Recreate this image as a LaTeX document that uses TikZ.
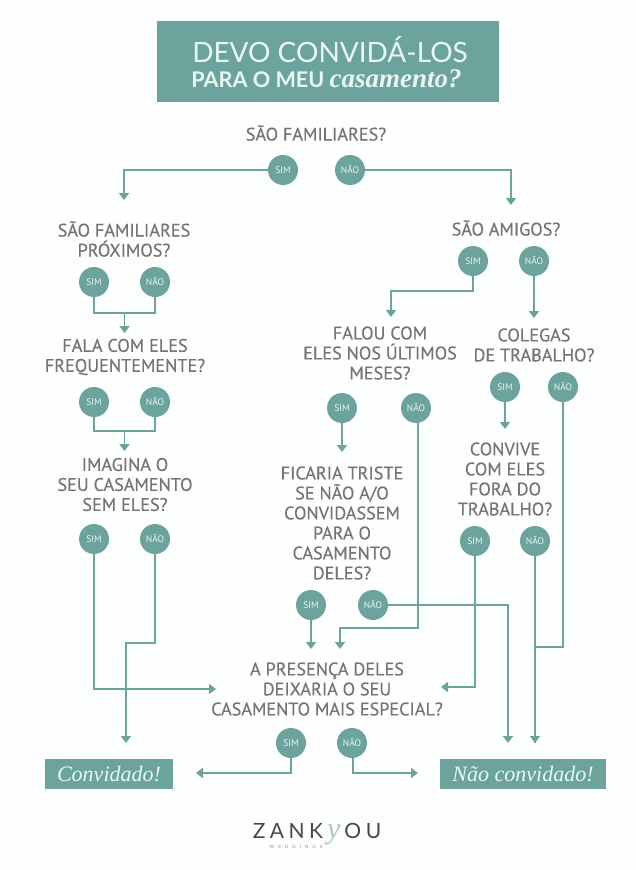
\documentclass[tikz,border=0pt]{standalone}
\usepackage{fontspec}
\setmainfont{PT Sans}
\newfontfamily\qfont[FakeBold=0.25]{PT Sans}
\newfontfamily\titlefont{Lato}
\newfontfamily\scriptf{Liberation Serif}
\usetikzlibrary{arrows.meta,calc}
\definecolor{teal1}{HTML}{6CA39C}
\definecolor{grey1}{HTML}{747474}
\definecolor{pale}{HTML}{E9F7F3}
\tikzset{
  x=1pt,y=-1pt,
  q/.style={text=grey1,align=center,inner sep=0pt,font=\qfont\fontsize{18.2}{20}\selectfont},
  ans/.style={circle,fill=teal1,minimum size=30pt,inner sep=0pt,text=pale,font=\fontsize{9.5}{10}\selectfont},
  res/.style={fill=teal1,inner sep=0pt,text=pale,font=\scriptf\itshape\fontsize{22}{24}\selectfont},
  link/.style={draw=teal1,line width=1.6pt},
  go/.style={link,-{Triangle[length=7pt,width=10pt]}},
}
\begin{document}
\begin{tikzpicture}
\useasboundingbox (0,0) rectangle (635,870);
\fill[white!99!teal1] (0,0) rectangle (635,870);
% title
\node[fill=teal1,minimum width=342pt,minimum height=81pt,inner sep=0pt] (title) at (328,61.5) {};
\node[text=pale,inner sep=0pt,font=\titlefont\fontsize{28}{30}\selectfont] (t1) at (330,50) {DEVO CONVIDÁ-LOS};
\node[text=pale,inner sep=0pt] (t2) at (326.5,79) {\titlefont\bfseries\fontsize{21.6}{24}\selectfont PARA O MEU \scriptf\itshape\fontsize{27}{24}\selectfont casamento?};
% questions
\node[q] (q0) at (316,133) {SÃO FAMILIARES?};
\node[q] (q1) at (124,239) {SÃO FAMILIARES\\PRÓXIMOS?};
\node[q] (q2) at (125,357) {FALA COM ELES\\FREQUENTEMENTE?};
\node[q] (q3) at (125,484.5) {IMAGINA O\\SEU CASAMENTO\\SEM ELES?};
\node[q] (q4) at (506,228) {SÃO AMIGOS?};
\node[q] (q5) at (380,353) {FALOU COM\\ELES NOS ÚLTIMOS\\MESES?};
\node[q] (q6) at (534,345) {COLEGAS\\DE TRABALHO?};
\node[q] (q7) at (505,479) {CONVIVE\\COM ELES\\FORA DO\\TRABALHO?};
\node[q] (q8) at (342,523) {FICARIA TRISTE\\SE NÃO A/O\\CONVIDASSEM\\PARA O\\CASAMENTO\\DELES?};
\node[q] (q9) at (327,689) {A PRESENÇA DELES\\DEIXARIA O SEU\\CASAMENTO MAIS ESPECIAL?};
% results
\node[res,minimum width=128pt,minimum height=30pt] (yes) at (109,774) {Convidado!};
\node[res,minimum width=166pt,minimum height=30pt] (no) at (523,774) {Não convidado!};
% free ends and joints
\coordinate (a1) at (124,200);
\coordinate (a2) at (511,205);
\coordinate (j1) at (124.5,313);
\coordinate (a3) at (124.5,333);
\coordinate (j2) at (124.5,431);
\coordinate (a4) at (124.5,451);
\coordinate (a5) at (216,689);
\coordinate (a6) at (126,743);
\coordinate (a7) at (391,317);
\coordinate (a8) at (340,649);
\coordinate (a9) at (311,649);
\coordinate (a10) at (441,687);
\coordinate (a11) at (508,743);
\coordinate (a12) at (535,743);
\coordinate (a13) at (196,773);
\coordinate (a14) at (418,773);
\coordinate (a15) at (505,429);
\coordinate (a16) at (342,452);
\coordinate (a17) at (534,318);
% answers
\node[ans] (s0) at (283,170) {SIM};
\node[ans] (n0) at (350,170) {NÃO};
\node[ans] (s1) at (94,282) {SIM};
\node[ans] (n1) at (155,282) {NÃO};
\node[ans] (s2) at (94,402) {SIM};
\node[ans] (n2) at (155,402) {NÃO};
\node[ans] (s3) at (94,539) {SIM};
\node[ans] (n3) at (155,539) {NÃO};
\node[ans] (s4) at (473,261) {SIM};
\node[ans] (n4) at (534,261) {NÃO};
\node[ans] (s5) at (342,408) {SIM};
\node[ans] (n5) at (416,408) {NÃO};
\node[ans] (s6) at (505,387) {SIM};
\node[ans] (n6) at (563,387) {NÃO};
\node[ans] (s7) at (475,541) {SIM};
\node[ans] (n7) at (535,541) {NÃO};
\node[ans] (s8) at (311,605) {SIM};
\node[ans] (n8) at (373,605) {NÃO};
\node[ans] (s9) at (291,743) {SIM};
\node[ans] (n9) at (352,743) {NÃO};
% connectors
\draw[go] (s0.west) -| (a1);
\draw[go] (n0.east) -| (a2);
\draw[link] (s1.south) |- (j1) -| (n1.south);
\draw[go] (j1) -- (a3);
\draw[link] (s2.south) |- (j2) -| (n2.south);
\draw[go] (j2) -- (a4);
\draw[go] (s3.south) |- (a5);
\draw[go] (n3.south) -- ++(0,89) -| (a6);
\draw[go] (s4.south) -- ++(0,15) -| (a7);
\draw[go] (n4.south) -- (a17);
\draw[go] (s5.south) -- (a16);
\draw[go] (n5.south) ++(2,0) -- ++(0,205) -| (a8);
\draw[go] (s6.south) -- (a15);
\draw[link] (n6.south) -- ++(0,245) -| (a12);
\draw[go] (s7.south) |- (a10);
\draw[go] (n7.south) -- (a12);
\draw[go] (s8.south) -- (a9);
\draw[go] (n8.east) -| (a11);
\draw[go] (s9.south) |- (a13);
\draw[go] (n9.south) ++(1,0) |- (a14);
% logo
\node[text=black!72,inner sep=0pt,font=\titlefont\fontsize{21}{22}\selectfont] (logo) at (317,834) {Z\hspace{4.5pt}A\hspace{4.5pt}N\hspace{4.5pt}K\hspace{4pt}{\color{teal1!60}\scriptf\itshape\fontsize{30}{30}\selectfont y}\hspace{4pt}O\hspace{4.5pt}U};
\node[text=black!45,inner sep=0pt,font=\titlefont\fontsize{4.5}{5}\selectfont] (logo2) at (296,847) {W\hspace{4pt}E\hspace{4pt}D\hspace{4pt}D\hspace{4pt}I\hspace{4pt}N\hspace{4pt}G\hspace{4pt}S};
\end{tikzpicture}
\end{document}
